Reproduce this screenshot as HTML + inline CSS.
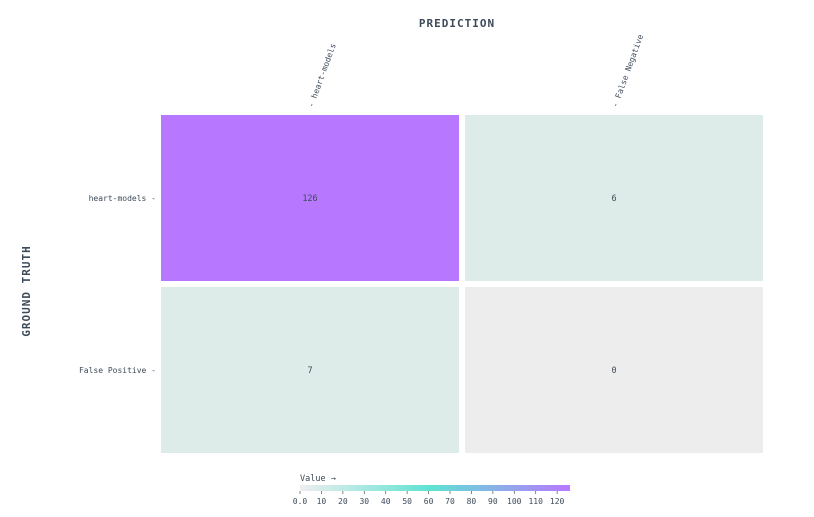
<!DOCTYPE html>
<html><head><meta charset="utf-8"><style>
body{margin:0;background:#fff;}
svg{font-family:"DejaVu Sans Mono","Liberation Mono",monospace;}
</style></head><body>
<svg id="chart" width="814" height="512" xmlns="http://www.w3.org/2000/svg">
<defs><linearGradient id="cg" x1="0" x2="1" y1="0" y2="0">
<stop offset="0" stop-color="#eeeeee"/><stop offset="0.48" stop-color="#5fe3d3"/><stop offset="1" stop-color="#b878ff"/>
</linearGradient></defs>
<text x="457" y="27" text-anchor="middle" font-size="11" font-weight="bold" fill="#3d4a5a" letter-spacing="1">PREDICTION</text>
<text transform="translate(30,291) rotate(-90)" text-anchor="middle" font-size="11" font-weight="bold" fill="#3d4a5a" letter-spacing="1">GROUND TRUTH</text>
<g id="cells"></g>
<g id="cbar"></g>
</svg>
<script>
const predLabels=["heart-models","False Negative"];
const truthLabels=["heart-models","False Positive"];
const values=[[126,6],[7,0]];
const cbTicks=[0,10,20,30,40,50,60,70,80,90,100,110,120];
const cbTickLabels=["0.0","10","20","30","40","50","60","70","80","90","100","110","120"];
const vmax=126;
const NS="http://www.w3.org/2000/svg";
const svg=document.getElementById('chart');
function mk(t,a,p){const e=document.createElementNS(NS,t);for(const k in a)e.setAttribute(k,a[k]);(p||svg).appendChild(e);return e;}
const x0=161,cw=298,gap=6,y0=115,ch=166;
const xs=i=>x0+i*(cw+gap), ys=j=>y0+j*(ch+gap);
function lerp(a,b,t){return a.map((v,i)=>Math.round(v+(b[i]-v)*t));}
function color(v){const t=v/vmax;const c0=[237,237,237],c1=[95,227,211],c2=[184,120,255];
 let c; if(v<=0) c=c0; else if(t<0.48) c=lerp([222,236,233],c1,(t-0.05)/0.48*0.35>0?(t-0.05)/0.48*0.35:0); else c=lerp(c1,c2,(t-0.48)/0.52);
 if(t>0.9)c=[183,120,255]; return `rgb(${c})`;}
const g=document.getElementById('cells');
values.forEach((row,j)=>row.forEach((v,i)=>{
 const r=mk('rect',{x:xs(i),y:ys(j),width:cw,height:ch,fill:color(v)},g);
 
 
 const t=mk('text',{x:xs(i)+cw/2,y:ys(j)+ch/2+3,'text-anchor':'middle','font-size':'8.5',fill:'#3d4a5a'},g);
 
 
 t.textContent=v;
}));
predLabels.forEach((l,i)=>{
 const cx=xs(i)+cw/2;
 const t=mk('text',{transform:`translate(${cx+3},${y0-7}) rotate(-70)`,'font-size':'8',fill:'#3d4a5a'},g);
 
 
 t.textContent='- '+l;
});
truthLabels.forEach((l,j)=>{
 const t=mk('text',{x:x0-5,y:ys(j)+ch/2+3,'text-anchor':'end','font-size':'8',fill:'#3d4a5a'},g);
 
 
 t.textContent=l+' -';
});
const cb=document.getElementById('cbar');
const cbx=300,cbw=270,cby=485;
const cxs=v=>cbx+v/vmax*cbw;
const bar=mk('rect',{x:cbx,y:cby,width:cbw,height:6,fill:'url(#cg)'},cb);


const ct=mk('text',{x:cbx,y:481,'font-size':'8.5',fill:'#3d4a5a'},cb);


ct.textContent='Value →';
cbTicks.forEach((v,i)=>{
 const ln=mk('line',{x1:cxs(v),x2:cxs(v),y1:cby+6,y2:cby+9,stroke:'#555','stroke-width':0.7},cb);
 
 
 const t=mk('text',{x:cxs(v),y:504,'text-anchor':'middle','font-size':'8',fill:'#3d4a5a'},cb);
 
 
 t.textContent=cbTickLabels[i];
});
</script>
</body></html>
